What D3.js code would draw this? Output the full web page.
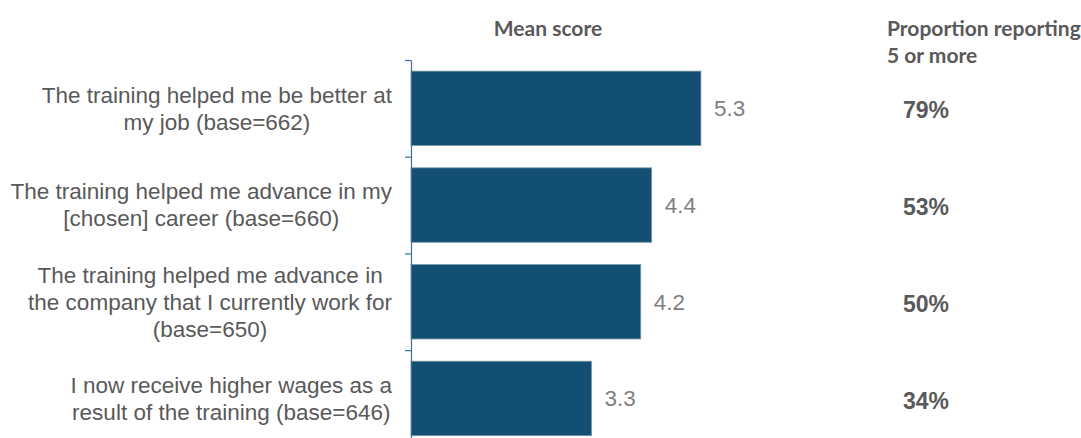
<!DOCTYPE html>
<html><head><meta charset="utf-8">
<script src="https://cdn.jsdelivr.net/npm/d3@7"></script>
<style>
html,body{margin:0;padding:0;background:#fff;}
svg{display:block;}
</style></head>
<body>
<script>
const categories = [
  ["The training helped me be better at", "my job (base=662)"],
  ["The training helped me advance in my", "[chosen] career (base=660)"],
  ["The training helped me advance in", "the company that I currently work for", "(base=650)"],
  ["I now receive higher wages as a", "result of the training (base=646)"]
];
const meanScores = [5.3, 4.4, 4.2, 3.3];
const proportions = ["79%", "53%", "50%", "34%"];
const headerMean = "Mean score";
const headerProp = ["Proportion reporting", "5 or more"];

const W = 1081, H = 438;
const svg = d3.select("body").append("svg").attr("width", W).attr("height", H);

const ids = categories.map((c, i) => i);
const y = d3.scaleBand().domain(ids).range([60, 446.8]).paddingInner(0.23).paddingOuter(0.115);
const x = d3.scaleLinear().domain([0, 7]).range([411, 411 + 7 * 54.7]);
const yb = d3.scaleLinear().domain([0, categories.length]).range([60, 446.8]);

// bars
svg.append("g").selectAll("rect").data(meanScores).join("rect")
  .attr("x", x(0)).attr("y", (d, i) => y(i))
  .attr("width", d => x(d) - x(0)).attr("height", y.bandwidth())
  .attr("fill", "#124F73").attr("stroke", "#7d98ab").attr("stroke-width", 0.8);

// axis
const ax = svg.append("g").attr("transform", `translate(${x(0)},0)`)
  .call(d3.axisLeft(yb).tickValues(d3.range(categories.length + 1)).tickFormat("").tickSize(6).tickSizeOuter(0));
ax.select(".domain").attr("stroke", "#3d6f94").attr("stroke-width", 1.2);
ax.selectAll(".tick line").attr("stroke", "#3d6f94").attr("stroke-width", 1.2);

// category labels
const lab = svg.append("g").attr("font-family", "Liberation Sans, Arial, sans-serif")
  .attr("font-size", 22.5).attr("fill", "#595959");
const lineH = 27;
categories.forEach((lines, i) => {
  const cy = y(i) + y.bandwidth() / 2;
  const g = lab.append("g");
  const ts = lines.map((l, k) => g.append("text")
    .attr("y", cy + (k - (lines.length - 1) / 2) * lineH)
    .attr("dy", "0.35em").attr("text-anchor", "middle").text(l));
  const maxW = d3.max(ts, t => t.node().getComputedTextLength());
  ts.forEach(t => t.attr("x", 392 - maxW / 2));
});

// value labels
svg.append("g").selectAll("text").data(meanScores).join("text")
  .attr("x", d => x(d) + 13).attr("y", (d, i) => y(i) + y.bandwidth() / 2)
  .attr("dy", "0.35em").attr("font-family", "Liberation Sans, Arial, sans-serif")
  .attr("font-size", 22.5).attr("fill", "#7f7f7f").text(d => d.toFixed(1));

// proportions
svg.append("g").selectAll("text").data(proportions).join("text")
  .attr("x", 926).attr("y", (d, i) => y(i) + y.bandwidth() / 2 + 2)
  .attr("dy", "0.35em").attr("text-anchor", "middle")
  .attr("font-family", "Liberation Sans, Arial, sans-serif").attr("font-weight", "bold")
  .attr("font-size", 23).attr("fill", "#595959").text(d => d);

// headers
const hdr = svg.append("g").attr("font-family", "Lato, sans-serif").attr("font-weight", "bold")
  .attr("font-size", 21).attr("fill", "#595959");
hdr.append("text").attr("x", 548).attr("y", 36).attr("text-anchor", "middle").text(headerMean);
headerProp.forEach((t, k) => hdr.append("text").attr("x", 887).attr("y", 36 + k * 27).text(t));
</script>
</body></html>
